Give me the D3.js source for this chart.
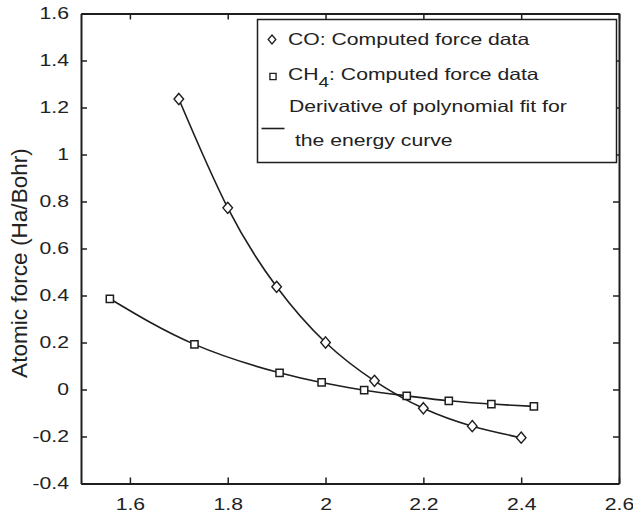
<!DOCTYPE html>
<html>
<head>
<meta charset="utf-8">
<script src="https://cdn.jsdelivr.net/npm/d3@7"></script>
<style>
  html, body { margin: 0; padding: 0; background: #fff; }
  svg { display: block; font-family: "Liberation Sans", Arial, Helvetica, sans-serif; }
</style>
</head>
<body>
<svg id="chart" width="633" height="515"></svg>
<script>
// ---- data ----
const coX   = [1.7, 1.8, 1.9, 2.0, 2.1, 2.2, 2.3, 2.4];
const coY   = [1.236, 0.773, 0.437, 0.200, 0.037, -0.080, -0.156, -0.205];
const ch4X  = [1.559, 1.732, 1.906, 1.992, 2.079, 2.166, 2.252, 2.339, 2.426];
const ch4Y  = [0.386, 0.192, 0.071, 0.030, -0.003, -0.027, -0.048, -0.062, -0.072];
const xTicks = [1.6, 1.8, 2.0, 2.2, 2.4, 2.6];
const yTicks = [-0.4, -0.2, 0, 0.2, 0.4, 0.6, 0.8, 1.0, 1.2, 1.4, 1.6];
const xDomain = [1.5, 2.6];
const yDomain = [-0.4, 1.6];
const yLabel = "Atomic force (Ha/Bohr)";
const legendCO = "CO: Computed force data";
const legendCH4a = "CH";
const legendCH4sub = "4";
const legendCH4b = ": Computed force data";
const legendFit1 = "Derivative of polynomial fit for";
const legendFit2 = " the energy curve";

// ---- layout ----
const W = 633, H = 515;
const m = { left: 81, right: 14, top: 13.5, bottom: 31.5 };
const ink = "#1e1e1e";
const txt = "#222";
const SX = 1.3;   // horizontal stretch of the reference's lettering
const svg = d3.select("#chart");

const x = d3.scaleLinear().domain(xDomain).range([m.left, W - m.right]);
const y = d3.scaleLinear().domain(yDomain).range([H - m.bottom, m.top]);
const fmt = t => String(+t.toFixed(1));

// axes (ticks inward, box)
const gx = svg.append("g").attr("transform", `translate(0,${H - m.bottom})`)
  .call(d3.axisBottom(x).tickValues(xTicks).tickFormat(fmt).tickSizeInner(-6).tickSizeOuter(0).tickPadding(15));
const gxt = svg.append("g").attr("transform", `translate(0,${m.top})`)
  .call(d3.axisTop(x).tickValues(xTicks).tickFormat("").tickSizeInner(-6).tickSizeOuter(0));
const gy = svg.append("g").attr("transform", `translate(${m.left},0)`)
  .call(d3.axisLeft(y).tickValues(yTicks).tickFormat(fmt).tickSizeInner(-6).tickSizeOuter(0).tickPadding(12));
const gyr = svg.append("g").attr("transform", `translate(${W - m.right},0)`)
  .call(d3.axisRight(y).tickValues(yTicks).tickFormat("").tickSizeInner(-6).tickSizeOuter(0));

[gx, gxt, gy, gyr].forEach(g => {
  g.select(".domain").attr("stroke", ink).attr("stroke-width", 2);
  g.selectAll(".tick line").attr("stroke", ink).attr("stroke-width", 1.5);
  g.selectAll(".tick text").attr("fill", txt).attr("font-size", 16.3)
    .attr("font-family", '"Liberation Sans", Arial, Helvetica, sans-serif');
});
gx.selectAll(".tick text").attr("dy", "0.71em");
// stretch tick labels horizontally about their anchor
[gx, gy].forEach(g => g.selectAll(".tick text").each(function () {
  const t = d3.select(this);
  const xx = +t.attr("x") || 0;
  t.attr("x", xx / SX).attr("transform", `scale(${SX},1)`);
}));

// y label
svg.append("text")
  .attr("transform", `translate(26.7,263) rotate(-90)`)
  .attr("text-anchor", "middle").attr("font-size", 22.6).attr("fill", txt)
  .text(yLabel);

// curves
const co = coX.map((v, i) => [v, coY[i]]);
const ch4 = ch4X.map((v, i) => [v, ch4Y[i]]);
const line = d3.line().x(d => x(d[0])).y(d => y(d[1])).curve(d3.curveNatural);
svg.append("path").attr("d", line(co)).attr("fill", "none").attr("stroke", ink).attr("stroke-width", 1.6);
svg.append("path").attr("d", line(ch4)).attr("fill", "none").attr("stroke", ink).attr("stroke-width", 1.6);

// markers
const diamond = {
  draw(ctx) {
    const w = 4.8, h = 5.6;
    ctx.moveTo(0, -h); ctx.lineTo(w, 0); ctx.lineTo(0, h); ctx.lineTo(-w, 0); ctx.closePath();
  }
};
const square = {
  draw(ctx) {
    const s = 3.6;
    ctx.moveTo(-s, -s); ctx.lineTo(s, -s); ctx.lineTo(s, s); ctx.lineTo(-s, s); ctx.closePath();
  }
};
const dSym = d3.symbol().type(diamond)();
const sSym = d3.symbol().type(square)();

svg.append("g").selectAll("path").data(co).join("path")
  .attr("d", dSym).attr("transform", d => `translate(${x(d[0])},${y(d[1])})`)
  .attr("fill", "#fff").attr("stroke", ink).attr("stroke-width", 1.4);
svg.append("g").selectAll("path").data(ch4).join("path")
  .attr("d", sSym).attr("transform", d => `translate(${x(d[0])},${y(d[1])})`)
  .attr("fill", "#fff").attr("stroke", ink).attr("stroke-width", 1.5);

// legend
const lg = svg.append("g");
lg.append("rect").attr("x", 257.5).attr("y", 19.5).attr("width", 359).attr("height", 143)
  .attr("fill", "#fff").attr("stroke", ink).attr("stroke-width", 1.5);
lg.append("path").attr("d", dSym).attr("transform", "translate(272,39.5) scale(0.8)")
  .attr("fill", "#fff").attr("stroke", ink).attr("stroke-width", 1.6);
lg.append("path").attr("d", sSym).attr("transform", "translate(273,76.5) scale(0.85)")
  .attr("fill", "#fff").attr("stroke", ink).attr("stroke-width", 1.6);
lg.append("line").attr("x1", 261.5).attr("x2", 284.5).attr("y1", 128.5).attr("y2", 128.5)
  .attr("stroke", ink).attr("stroke-width", 1.6);

function legendText(x0, y0) {
  return lg.append("text").attr("transform", `translate(${x0},${y0}) scale(${SX},1)`)
    .attr("font-size", 16.3).attr("fill", txt);
}
legendText(288, 45).text(legendCO);
const t2 = legendText(288, 80);
t2.append("tspan").text(legendCH4a);
t2.append("tspan").attr("dy", 7.3).attr("font-size", 14.5).text(legendCH4sub);
t2.append("tspan").attr("dy", -7.3).text(legendCH4b);
legendText(289, 112).text(legendFit1);
legendText(289, 145.5).style("white-space", "pre").text(legendFit2);
</script>
</body>
</html>
